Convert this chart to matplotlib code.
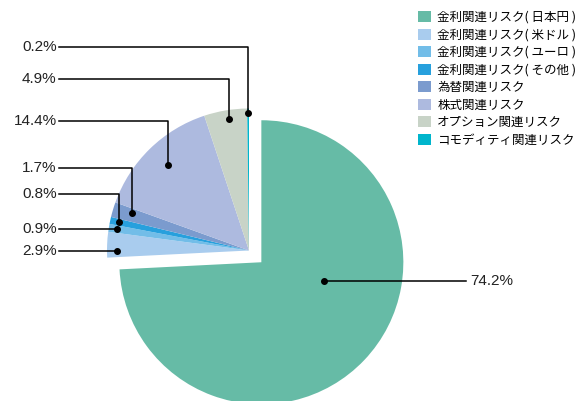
import matplotlib.pyplot as plt
import numpy as np
from matplotlib.patches import Patch

plt.rcParams['font.family'] = ['Noto Sans CJK JP', 'DejaVu Sans']

categories = [
    '金利関連リスク( 日本円 )',
    '金利関連リスク( 米ドル )',
    '金利関連リスク( ユーロ )',
    '金利関連リスク( その他 )',
    '為替関連リスク',
    '株式関連リスク',
    'オプション関連リスク',
    'コモディティ関連リスク',
]
shares = [74.2, 2.9, 0.9, 0.8, 1.7, 14.4, 4.9, 0.2]
colors = ['#66bba6', '#a9ccee', '#72bde8', '#27a0dd',
          '#7b9bce', '#adbadf', '#c8d3c7', '#00b5cc']

# layout (pixels of the 580x401 canvas)
W, H = 580, 401
R_PX = 142
CX, CY = 249, 250.5
explode = [0.12, 0, 0, 0, 0, 0, 0, 0]
# where the leader dot sits inside each wedge: fraction along the wedge
# (clockwise from its start) and fraction of the radius
dot_frac = [0.40, 0.24, 0.48, 0.59, 0.64, 0.515, 0.55, 0.5]
dot_rad = [0.46, 0.93, 0.94, 0.94, 0.865, 0.83, 0.94, 0.97]
# label row (pixel y); None -> straight line at the dot's height
label_y_px = [None, None, None, 194, 168.3, 120.7, 79, 47.3]
LABEL_RIGHT_PX = 56.5
LINE_START_PX = 59
BIG_LINE_END_PX = 466


def dx(px):
    return (px - CX) / R_PX


def dy(py):
    return (CY - py) / R_PX


fig = plt.figure(figsize=(5.8, 4.01), dpi=100)
ax = fig.add_axes([0, 0, 1, 1])

wedges, _ = ax.pie(shares, colors=colors, startangle=90, counterclock=False,
                   explode=explode, radius=1,
                   wedgeprops=dict(linewidth=0))
ax.set_xlim(dx(0), dx(W))
ax.set_ylim(dy(H), dy(0))
ax.set_aspect('auto')
ax.axis('off')

pct_font = dict(family='Liberation Sans', fontsize=11, color='#222222')
for i, w in enumerate(wedges):
    start = w.theta2
    ang = np.deg2rad(start - dot_frac[i] * (w.theta2 - w.theta1))
    x0 = w.center[0] + dot_rad[i] * np.cos(ang)
    y0 = w.center[1] + dot_rad[i] * np.sin(ang)
    ax.plot([x0], [y0], 'o', color='black', ms=4, zorder=5)
    txt = f'{shares[i]}%'
    if i == 0:
        ax.plot([x0, dx(BIG_LINE_END_PX)], [y0, y0], color='black', lw=1.1, zorder=4)
        ax.text(dx(BIG_LINE_END_PX + 4), y0, txt, ha='left', va='center', **pct_font)
        continue
    if label_y_px[i] is None:
        ly = y0
        ax.plot([dx(LINE_START_PX), x0], [ly, ly], color='black', lw=1.1, zorder=4)
    else:
        ly = dy(label_y_px[i])
        ax.plot([dx(LINE_START_PX), x0, x0], [ly, ly, y0], color='black', lw=1.1, zorder=4)
    ax.text(dx(LABEL_RIGHT_PX), ly, txt, ha='right', va='center', **pct_font)

handles = [Patch(facecolor=c, edgecolor='none') for c in colors]
fig.legend(handles, categories, loc='upper left',
           bbox_to_anchor=(408 / W, 1 - 1 / H), frameon=False,
           fontsize=9, handlelength=1.0, handleheight=1.0,
           handletextpad=0.55, labelspacing=0.36, borderpad=0.3)

fig.savefig('out.png', dpi=100)
